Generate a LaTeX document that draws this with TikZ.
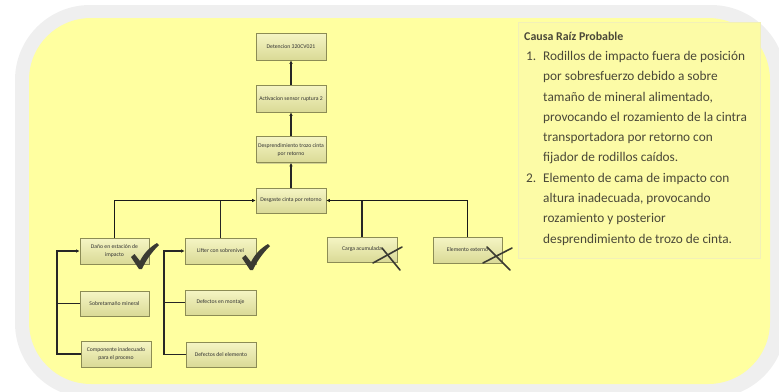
\documentclass[tikz,border=0pt]{standalone}
\usepackage{fontspec}
\setmainfont{Carlito}
\usetikzlibrary{shadows,arrows.meta}
\definecolor{framegray}{HTML}{EFEFEF}
\definecolor{bgyellow}{HTML}{FFFFA0}
\definecolor{tbyellow}{HTML}{FCFBA6}
\definecolor{tbborder}{HTML}{F2F0B8}
\definecolor{boxtop}{HTML}{F5F5C4}
\definecolor{boxbot}{HTML}{DADA96}
\definecolor{boxline}{HTML}{8C8C55}
\definecolor{inktext}{HTML}{4A4838}
\definecolor{markgray}{HTML}{3A3A32}
\tikzset{
  fbox/.style={draw=boxline, line width=0.8pt, top color=boxtop, bottom color=boxbot,
    minimum width=70pt, minimum height=26pt, inner sep=1pt, align=center,
    font=\fontsize{5.7}{8}\selectfont, text=black!80,
    drop shadow={shadow xshift=1pt, shadow yshift=-1.2pt, opacity=0.35}},
  conn/.style={line width=1.1pt, black!85},
  mainconn/.style={line width=1.6pt, black!90},
  arr/.style={-{Latex[length=3.5pt,width=3.5pt]}},
  rtxt/.style={anchor=base west, inner sep=0pt, text=inktext, font=\fontsize{13.3}{15}\selectfont},
  checkmark/.pic={\fill[markgray] (0,13) -- (3.5,10) -- (9,17) .. controls (13,9) and (19,3) .. (26,-1) -- (28,1) .. controls (21,8) and (15,16) .. (11,25) -- (8,25) -- cycle;},
  xmark/.style={line width=1.6pt, markgray, line cap=round}
}
\begin{document}
\begin{tikzpicture}[x=1pt,y=-1pt]
\useasboundingbox (0,0) rectangle (779,391);
\fill[framegray, rounded corners=75pt] (15,5) rectangle (786,398);
\fill[bgyellow, rounded corners=62pt] (29,18) rectangle (770,384);
% text panel
\draw[tbborder, fill=tbyellow, line width=0.6pt] (518,22) rectangle (760,258);
\node[rtxt, font=\fontsize{11.9}{13}\selectfont\bfseries] (title) at (524,40) {Causa Raíz Probable};
\node[rtxt] (n1) at (526,60) {1.};
\node[rtxt] (l1) at (543,60) {Rodillos de impacto fuera de posición};
\node[rtxt] (l2) at (543,80) {por sobresfuerzo debido a sobre};
\node[rtxt] (l3) at (543,101) {tamaño de mineral alimentado,};
\node[rtxt] (l4) at (543,121) {provocando el rozamiento de la cintra};
\node[rtxt] (l5) at (543,141) {transportadora por retorno con};
\node[rtxt] (l6) at (543,161) {fijador de rodillos caídos.};
\node[rtxt] (n2) at (526,182) {2.};
\node[rtxt] (l7) at (543,182) {Elemento de cama de impacto con};
\node[rtxt] (l8) at (543,202) {altura inadecuada, provocando};
\node[rtxt] (l9) at (543,222) {rozamiento y posterior};
\node[rtxt] (l10) at (543,243) {desprendimiento de trozo de cinta.};
% boxes
\node[fbox, minimum height=27pt] (det) at (291,46.5) {Detencion 320CV021};
\node[fbox, minimum height=27pt] (act) at (291,98.5) {Activacion sensor ruptura 2};
\node[fbox] (des) at (291,149.5) {Desprendimiento trozo cinta\\por retorno};
\node[fbox, minimum height=25pt] (desg) at (291,200.5) {Desgaste cinta por retorno};
\node[fbox, minimum width=69pt] (dano) at (114.5,251) {Daño en estación de\\impacto};
\node[fbox, minimum width=71pt] (lift) at (220.5,251) {Lifter con sobrenivel};
\node[fbox, minimum height=25pt] (carga) at (362,249.5) {Carga acumulada};
\node[fbox, minimum width=69pt] (elem) at (467.5,250) {Elemento externo};
\node[fbox, minimum width=69pt, minimum height=25pt] (sobre) at (114.5,303.5) {Sobretamaño mineral};
\node[fbox] (comp) at (116,354) {Componente inadecuado\\para el proceso};
\node[fbox, minimum width=71pt, minimum height=25pt] (mont) at (220.5,302.5) {Defectos en montaje};
\node[fbox, minimum height=25pt] (delem) at (221,354.5) {Defectos del elemento};
% vertical chain
\draw[conn, arr] (act) -- (det);
\draw[conn, arr] (des) -- (act);
\draw[conn, arr] (desg) -- (des);
% main horizontal
\draw[mainconn, arr] (dano.north) |- (desg.west);
\draw[conn] (lift.north) -- (lift.north |- desg.west);
\draw[mainconn, arr] (elem.north) |- (desg.east);
\draw[conn] (carga.north) -- (carga.north |- desg.east);
% left brackets
\coordinate (b1) at (57,354);
\coordinate (b2) at (164,354.5);
\draw[conn, arr] (comp.west) -- (comp.west -| b1) |- (dano.west);
\draw[conn] (sobre.west) -- (sobre.west -| b1);
\draw[conn, arr] (delem.west) -- (delem.west -| b2) |- (lift.west);
\draw[conn] (mont.west) -- (mont.west -| b2);
% marks
\pic at (131,244) {checkmark};
\pic at (242,245) {checkmark};
\draw[xmark] (373,263) -- (402,247);
\draw[xmark] (382,248) -- (400,270);
\draw[xmark] (483,263) -- (512,248);
\draw[xmark] (487,247) -- (510,270);
\end{tikzpicture}
\end{document}
